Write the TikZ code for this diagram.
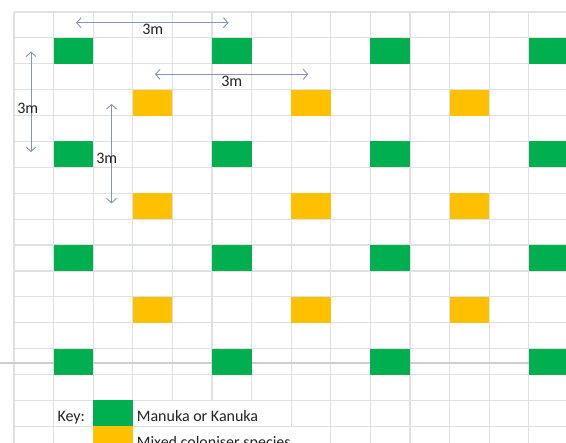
\documentclass[tikz,border=0pt]{standalone}
\usepackage{fontspec}
\setmainfont{Carlito}
\usetikzlibrary{arrows.meta}
\definecolor{gridc}{RGB}{222,224,225}
\definecolor{pbreak}{RGB}{205,205,205}
\definecolor{mgreen}{RGB}{0,176,80}
\definecolor{myellow}{RGB}{255,192,0}
\definecolor{arrowc}{RGB}{132,151,176}
\definecolor{txtc}{RGB}{35,35,35}
\begin{document}
\begin{tikzpicture}[x=1pt,y=-1pt,
  gridline/.style={draw=gridc,line width=1.2pt},
  breakline/.style={draw=pbreak,line width=2pt},
  cellbox/.style={minimum width=39.6pt,minimum height=25.9pt,inner sep=0pt,outer sep=0pt,draw=none},
  greenbox/.style={cellbox,fill=mgreen},
  yellowbox/.style={cellbox,fill=myellow},
  arrowline/.style={draw=arrowc,line width=0.9pt,{Straight Barb[length=4.5pt,width=10pt]}-{Straight Barb[length=4.5pt,width=10pt]}},
  lbl/.style={inner sep=0pt,text=txtc,font=\fontsize{16}{19}\selectfont},
]
\useasboundingbox (0,0) rectangle (566,443);
\fill[white] (0,0) rectangle (566,443);
\clip (0,0) rectangle (566,443);
% horizontal grid lines
\foreach \r in {0,...,17} {
  \draw[gridline] (14,{12+\r*25.9}) -- (580,{12+\r*25.9});
}
% vertical grid lines
\foreach \c in {0,1,2,3,8,9,10,11,12,13,14} {
  \draw[gridline] ({14+\c*39.6},12) -- ({14+\c*39.6},460);
}
\foreach \c in {4,5,6} {
  \draw[gridline] ({14+\c*39.6},12) -- ({14+\c*39.6},{12+15*25.9});
}
\draw[gridline] ({14+7*39.6},12) -- ({14+7*39.6},{12+16*25.9});
% page break line
\coordinate (pbL) at (0,363);
\coordinate (pbR) at (580,363);
\draw[breakline] (pbL) -- (pbR);
% green plants
\foreach \c in {1,5,9,13} {
  \foreach \r in {1,5,9,13} {
    \node[greenbox] (g-\c-\r) at ({14+(\c+0.5)*39.6},{12+(\r+0.5)*25.9}) {};
  }
}
% yellow plants
\foreach \c in {3,7,11} {
  \foreach \r in {3,7,11} {
    \node[yellowbox] (y-\c-\r) at ({14+(\c+0.5)*39.6},{12+(\r+0.5)*25.9}) {};
  }
}
% dimension arrows
\coordinate (h1a) at (76,22.7);
\coordinate (h1b) at (228.5,22.7);
\draw[arrowline] (h1a) -- (h1b);
\node[lbl] (h1l) at (152.7,29.5) {3m};
\coordinate (h2a) at (155,74.3);
\coordinate (h2b) at (308.3,74.3);
\draw[arrowline] (h2a) -- (h2b);
\node[lbl] (h2l) at (231.7,81) {3m};
\coordinate (v1a) at (31,51.5);
\coordinate (v1b) at (31,152);
\draw[arrowline] (v1a) -- (v1b);
\node[lbl] (v1l) at (27.8,108) {3m};
\coordinate (v2a) at (111.5,104);
\coordinate (v2b) at (111.5,203.5);
\draw[arrowline] (v2a) -- (v2b);
\node[lbl] (v2l) at (106.7,158.3) {3m};
% key
\node[lbl,anchor=base west] (keyl) at (57.3,422) {Key:};
\node[greenbox] (kg) at ({14+2.5*39.6},{12+15.5*25.9}) {};
\node[lbl,anchor=base west] (kgl) at (136.7,422) {Manuka or Kanuka};
\node[yellowbox] (ky) at ({14+2.5*39.6},{12+16.5*25.9}) {};
\node[lbl,anchor=base west] (kyl) at (136.7,448) {Mixed coloniser species};
\end{tikzpicture}
\end{document}
